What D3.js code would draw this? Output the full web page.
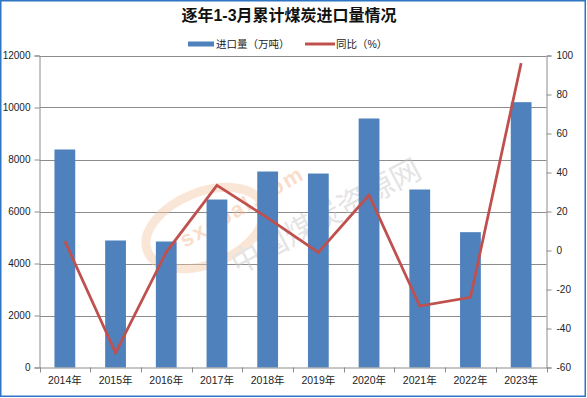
<!DOCTYPE html>
<html>
<head>
<meta charset="utf-8">
<script src="https://cdn.jsdelivr.net/npm/d3@7"></script>
<style>
body { margin: 0; background: #fff; }
text { font-family: "Liberation Sans", "Noto Sans CJK SC", sans-serif; fill: #222; }
</style>
</head>
<body>
<svg id="chart" width="587" height="398"></svg>
<script>
var years = ["2014年","2015年","2016年","2017年","2018年","2019年","2020年","2021年","2022年","2023年"];
var imports = [8385, 4885, 4846, 6460, 7538, 7460, 9577, 6846, 5205, 10205];
var yoy = [4.8, -52.5, -0.8, 33.4, 16.7, -1.0, 28.4, -28.5, -24.0, 96.1];
var leftTicks = [0, 2000, 4000, 6000, 8000, 10000, 12000];
var rightTicks = [-60, -40, -20, 0, 20, 40, 60, 80, 100];

var svg = d3.select("#chart");
var m = {left: 39.5, right: 546.5, top: 55.5, bottom: 367.5};

var x = d3.scaleBand().domain(years).range([m.left, m.right]).paddingInner(0.59).paddingOuter(0.295);
var band = d3.scaleBand().domain(years).range([m.left, m.right]);
var y = d3.scaleLinear().domain([0, 12000]).range([m.bottom, m.top]);
var y2 = d3.scaleLinear().domain([-60, 100]).range([m.bottom, m.top]);

// frame
svg.append("rect").attr("x", 0.75).attr("y", 0.75).attr("width", 584.5).attr("height", 395.5)
  .attr("fill", "none").attr("stroke", "#2e75c4").attr("stroke-width", 1.5);

// title
svg.append("text").attr("x", 289).attr("y", 21).attr("text-anchor", "middle")
  .style("font-size", "16px").style("font-weight", "bold").style("fill", "#111")
  .text("逐年1-3月累计煤炭进口量情况");

// gridlines
svg.append("g").selectAll("line").data(leftTicks.slice(1)).join("line")
  .attr("x1", m.left).attr("x2", m.right)
  .attr("y1", d => Math.round(y(d)) + 0.5).attr("y2", d => Math.round(y(d)) + 0.5)
  .attr("stroke", "#8c8c8c").attr("stroke-width", 1);

// watermark
var wm = svg.append("g").attr("opacity", 0.45);
wm.append("ellipse").attr("cx", 205).attr("cy", 228).attr("rx", 62).attr("ry", 36)
  .attr("transform", "rotate(-22,205,228)")
  .attr("fill", "none").attr("stroke", "#f6c9a6").attr("stroke-width", 9);
wm.append("text").attr("transform", "translate(185,248) rotate(-30)")
  .style("font-size", "22px").style("font-weight", "bold").style("fill", "#f3b58c")
  .style("letter-spacing", "2px").text("sxcoal.com");
wm.append("text").attr("transform", "translate(238,275) rotate(-28)")
  .style("font-size", "30px").style("fill", "#c4c4c4")
  .style("font-family", "Noto Sans CJK SC").text("中国煤炭资源网");

// bars
svg.append("g").selectAll("rect").data(imports).join("rect")
  .attr("x", (d, i) => x(years[i])).attr("width", x.bandwidth())
  .attr("y", d => y(d)).attr("height", d => y(0) - y(d))
  .attr("fill", "#4f81bd");

// axes
var axisColor = "#8c8c8c";
var gl = svg.append("g").attr("transform", "translate(" + m.left + ",0)")
  .call(d3.axisLeft(y).tickValues(leftTicks).tickSize(5).tickPadding(4).tickFormat(d => String(d)));
var gr = svg.append("g").attr("transform", "translate(" + m.right + ",0)")
  .call(d3.axisRight(y2).tickValues(rightTicks).tickSize(5).tickPadding(5).tickFormat(d => String(d)));
var gb = svg.append("g").attr("transform", "translate(0," + m.bottom + ")")
  .call(d3.axisBottom(band).tickSize(0).tickPadding(9));
// category boundary ticks
svg.append("g").selectAll("line").data(d3.range(years.length + 1)).join("line")
  .attr("x1", i => Math.round(m.left + i * band.step()) + 0.5)
  .attr("x2", i => Math.round(m.left + i * band.step()) + 0.5)
  .attr("y1", m.bottom).attr("y2", m.bottom + 5)
  .attr("stroke", axisColor);

[gl, gr, gb].forEach(function (g) {
  g.select(".domain").attr("stroke", axisColor);
  g.selectAll(".tick line").attr("stroke", axisColor);
  g.selectAll(".tick text").style("font-size", "10px").style("fill", "#222")
    .style("font-family", "\"Liberation Sans\", \"Noto Sans CJK SC\", sans-serif");
});
gb.selectAll(".tick text").style("font-size", "10.5px");

// line
var line = d3.line().x((d, i) => band(years[i]) + band.bandwidth() / 2).y(d => y2(d));
svg.append("path").datum(yoy).attr("d", line)
  .attr("fill", "none").attr("stroke", "#c0504d").attr("stroke-width", 2.75)
  .attr("stroke-linejoin", "miter");

// legend
var lg = svg.append("g");
lg.append("rect").attr("x", 188).attr("y", 41.5).attr("width", 26).attr("height", 5).attr("fill", "#4f81bd");
lg.append("text").attr("x", 216).attr("y", 48).style("font-size", "10.5px").text("进口量（万吨）");
lg.append("line").attr("x1", 305).attr("x2", 335).attr("y1", 44).attr("y2", 44)
  .attr("stroke", "#c0504d").attr("stroke-width", 3);
lg.append("text").attr("x", 336).attr("y", 48).style("font-size", "10.5px").text("同比（%）");
</script>
</body>
</html>
